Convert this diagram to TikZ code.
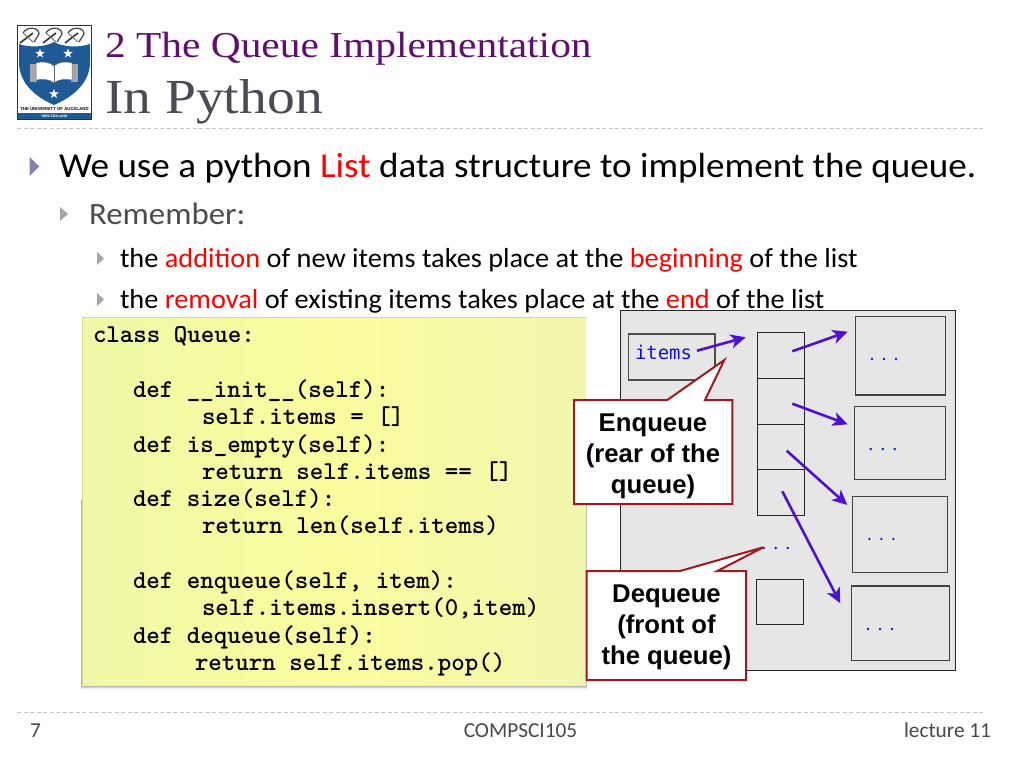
\documentclass[tikz,border=0pt]{standalone}
\usepackage{fontspec}
\setmainfont{Carlito}
\newfontfamily\titlefont{Liberation Serif}[FakeStretch=1.135]
\newfontfamily\itemsfont{DejaVu Sans Mono}
\newfontfamily\callfont{Liberation Sans}
\definecolor{titlepurple}{HTML}{5F0F6E}
\definecolor{titlegray}{HTML}{4A4B55}
\definecolor{bulblue}{HTML}{8082B0}
\definecolor{bulgray}{HTML}{A6A6A6}
\definecolor{panelgray}{HTML}{E6E6E6}
\definecolor{arrowviolet}{HTML}{5010D0}
\definecolor{calloutred}{HTML}{9E1A20}
\definecolor{shieldblue}{HTML}{1E5A96}
\definecolor{dashgray}{HTML}{C8C8C8}
\definecolor{footgray}{HTML}{484848}
\definecolor{itemblue}{HTML}{1010E0}
\definecolor{padleft}{HTML}{F0F8A8}
\definecolor{padmid}{HTML}{FAFD9E}
\definecolor{padright}{HTML}{F2F6AE}
\definecolor{padedge}{HTML}{D0DC8C}
\usetikzlibrary{arrows.meta}
\pgfdeclarehorizontalshading{padshade}{100bp}{color(0bp)=(padleft); color(25bp)=(padleft); color(50bp)=(padmid); color(75bp)=(padright); color(100bp)=(padright)}
\newcommand{\fs}[2]{\fontsize{#1}{#2}\selectfont}
\tikzset{
  x=1pt,y=-1pt,
  txt/.style={anchor=base west,inner sep=0pt,outer sep=0pt},
  lvlone/.style={txt,font=\addfontfeature{FakeStretch=1.06}\fs{35}{38}},
  lvltwo/.style={txt,font=\addfontfeature{FakeStretch=1.06}\fs{31}{34}},
  lvlthree/.style={txt,font=\addfontfeature{FakeStretch=1.03}\fs{27.5}{30}},
  codeline/.style={txt,font=\ttfamily\bfseries\addfontfeature{FakeBold=1.3}\fs{25.7}{27}},
  foot/.style={inner sep=0pt,outer sep=0pt,anchor=base,text=footgray,font=\fs{21.3}{24}},
  cell/.style={draw=black!85,line width=1pt,fill=panelgray},
  objbox/.style={draw=black!75,line width=1.3pt,fill=panelgray},
  ptr/.style={draw=arrowviolet,line width=2.6pt,-{Stealth[length=15pt,width=14pt,inset=4pt]}},
  callout/.style={draw=calloutred,line width=2pt,fill=white,line join=miter},
  calltext/.style={inner sep=0pt,outer sep=0pt,anchor=base,font=\callfont\bfseries\fs{25.7}{31}},
  bullet/.style={fill=#1,draw=none},
  dashrule/.style={draw=dashgray,line width=1pt,dash pattern=on 4pt off 2.5pt},
}
\begin{document}
\begin{tikzpicture}
\useasboundingbox (0,0) rectangle (1024,768);
\fill[white] (0,0) rectangle (1024,768);

% logo
\draw[black!80,line width=.8pt,fill=white] (17.3,25.3) rectangle (91.7,119.3);
\fill[shieldblue] (19,44) .. controls (30,48) and (45,47) .. (54,42) .. controls (63,47) and (78,48) .. (90,44)
  -- (90,62) .. controls (90,85) and (70,98) .. (54,105) .. controls (38,98) and (19,85) .. (19,62) -- cycle;
\foreach \cx in {31,54,76}{
  \draw[black!70,line width=1.3pt] (\cx-8,33) .. controls (\cx-4,26) and (\cx+8,27) .. (\cx+8,34) -- (\cx+3,42);
  \draw[black!80,line width=1.6pt] (\cx-11,43) -- (\cx+2,33);
  \draw[black!55,line width=1pt] (\cx-8,33) -- (\cx+2,42);
}
\foreach \sx/\sy in {40/53.5,68/53.5,54/94}{
  \fill[white] (\sx,\sy-5)
    \foreach \a in {1,...,9}{ -- ({\sx+(mod(\a,2)==1?2:5)*sin(36*\a)},{\sy-(mod(\a,2)==1?2:5)*cos(36*\a)}) } -- cycle;
}
\fill[black!35] (30,64) rectangle (37,82);
\fill[black!35] (71,64) rectangle (78,82);
\fill[white,draw=black!60,line width=.5pt] (36,63) .. controls (42,61) and (50,62) .. (54,66)
  .. controls (58,62) and (66,61) .. (72,63) -- (72,80) .. controls (66,79) and (58,79) .. (54,83)
  .. controls (50,79) and (42,79) .. (36,80) -- cycle;
\draw[black!60,line width=.6pt] (54,66) -- (54,83);
\node[inner sep=0pt,font=\callfont\bfseries\fs{4.3}{5}] (logoname) at (54.5,109.5) {THE UNIVERSITY OF AUCKLAND};
\fill[shieldblue] (17.8,113) rectangle (91.2,118.8);
\node[inner sep=0pt,text=white,font=\callfont\bfseries\fs{3.5}{4}] (logonz) at (54.5,116) {NEW ZEALAND};

% title
\node[txt,text=titlepurple,font=\titlefont\fs{36.5}{40}] (title1) at (105,57) {2 The Queue Implementation};
\node[txt,text=titlegray,font=\titlefont\fs{49}{54}] (title2) at (105,113) {In Python};
\draw[dashrule] (17,128) -- (985,128);
\draw[dashrule] (17,712) -- (985,712);

% bullets and body text
\fill[bullet=bulblue] (29.5,157) -- (39.3,166.5) -- (29.5,176) -- cycle;
\fill[bullet=bulgray] (60,207) -- (68,214) -- (60,221) -- cycle;
\fill[bullet=bulgray] (97,252) -- (104,258.5) -- (97,265) -- cycle;
\fill[bullet=bulgray] (97,293) -- (104,299.5) -- (97,306) -- cycle;
\node[lvlone] (body1) at (59,177) {We use a python \textcolor{red}{List} data structure to implement the queue.};
\node[lvltwo,text=black!70] (body2) at (89,224) {Remember:};
\node[lvlthree] (body3) at (120,267) {the \textcolor{red}{addition} of new items takes place at the \textcolor{red}{beginning} of the list};
\node[lvlthree] (body4) at (120,308) {the \textcolor{red}{removal} of existing items takes place at the \textcolor{red}{end} of the list};

% code panel
\foreach \d/\o in {4/.08,3/.10,2/.14,1/.18}{
  \fill[black,opacity=\o] (82-\d/3,500) rectangle (586+\d/3,685+\d);
}
\path[shading=padshade] (82,317) rectangle (586,685);
\draw[padedge,line width=.7pt] (82,685) -- (82,317) -- (586,317);
\node[codeline] (c1) at (93,342) {class Queue:};
\node[codeline] (c2) at (133,397) {def \_\_init\_\_(self):};
\node[codeline] (c3) at (202,424) {self.items = []};
\node[codeline] (c4) at (133,452) {def is\_empty(self):};
\node[codeline] (c5) at (202,479) {return self.items == []};
\node[codeline] (c6) at (133,506) {def size(self):};
\node[codeline] (c7) at (202,533) {return len(self.items)};
\node[codeline] (c8) at (133,588) {def enqueue(self, item):};
\node[codeline] (c9) at (202,615) {self.items.insert(0,item)};
\node[codeline] (c10) at (133,643) {def dequeue(self):};
\node[codeline] (c11) at (195,670) {return self.items.pop()};

% memory panel
\draw[black!85,line width=1pt,fill=panelgray] (620.7,310.7) rectangle (955,670);
\draw[cell,draw=black!70,line width=1.2pt] (628.7,334) rectangle (715,380);
\node[txt,text=itemblue,font=\itemsfont\fs{18.9}{20}] (itemslabel) at (635,359.5) {items};
\foreach \n/\a/\b in {1/332.7/378.3,2/378.3/424,3/424/469.7,4/469.7/515.3}{
  \draw[cell] (757.3,\a) rectangle (804.7,\b);
}
\draw[cell] (756,579.3) rectangle (803.3,624.3);
\draw[objbox] (855.7,316.3) rectangle (945.7,395);
\draw[objbox] (854.3,406.3) rectangle (945.7,479.3);
\draw[objbox] (852.7,496.3) rectangle (947.3,572.3);
\draw[objbox] (851.3,586) rectangle (949.7,660.7);
\foreach \dx/\dy in {884/359,882.7/449,881.3/539,880/629,775.7/548}{
  \foreach \k in {-12,0,12}{ \fill[itemblue] (\dx+\k,\dy) circle (1.3pt); }
}

% arrows
\coordinate (a0s) at (697,350.7); \coordinate (a0e) at (745.7,337.3);
\coordinate (a1s) at (792.3,351.3); \coordinate (a1e) at (847.7,331.7);
\coordinate (a2s) at (792.3,403.7); \coordinate (a2e) at (847.7,424.3);
\coordinate (a3s) at (786.7,450.7); \coordinate (a3e) at (847.3,505);
\coordinate (a4s) at (782.3,491.3); \coordinate (a4e) at (840.3,603.3);
\foreach \n in {0,...,4}{ \draw[ptr] (a\n s) -- (a\n e); }

% callouts
\draw[callout] (574,400) -- (667.3,400) -- (724.3,360) -- (705,400) -- (732.3,400) -- (732.3,504) -- (574,504) -- cycle;
\node[calltext] (enq1) at (653,431) {Enqueue};
\node[calltext] (enq2) at (653,462) {(rear of the};
\node[calltext] (enq3) at (653,493) {queue)};
\draw[callout] (586.7,571) -- (680,571) -- (763.3,547.3) -- (717.3,571) -- (746,571) -- (746,680) -- (586.7,680) -- cycle;
\node[calltext] (deq1) at (666.5,602) {Dequeue};
\node[calltext] (deq2) at (666.5,633) {(front of};
\node[calltext] (deq3) at (666.5,664) {the queue)};

% footer
\node[foot,anchor=base west] (f1) at (30,737) {7};
\node[foot] (f2) at (520.5,737) {COMPSCI105};
\node[foot,anchor=base east] (f3) at (991,737) {lecture 11};
\end{tikzpicture}
\end{document}
